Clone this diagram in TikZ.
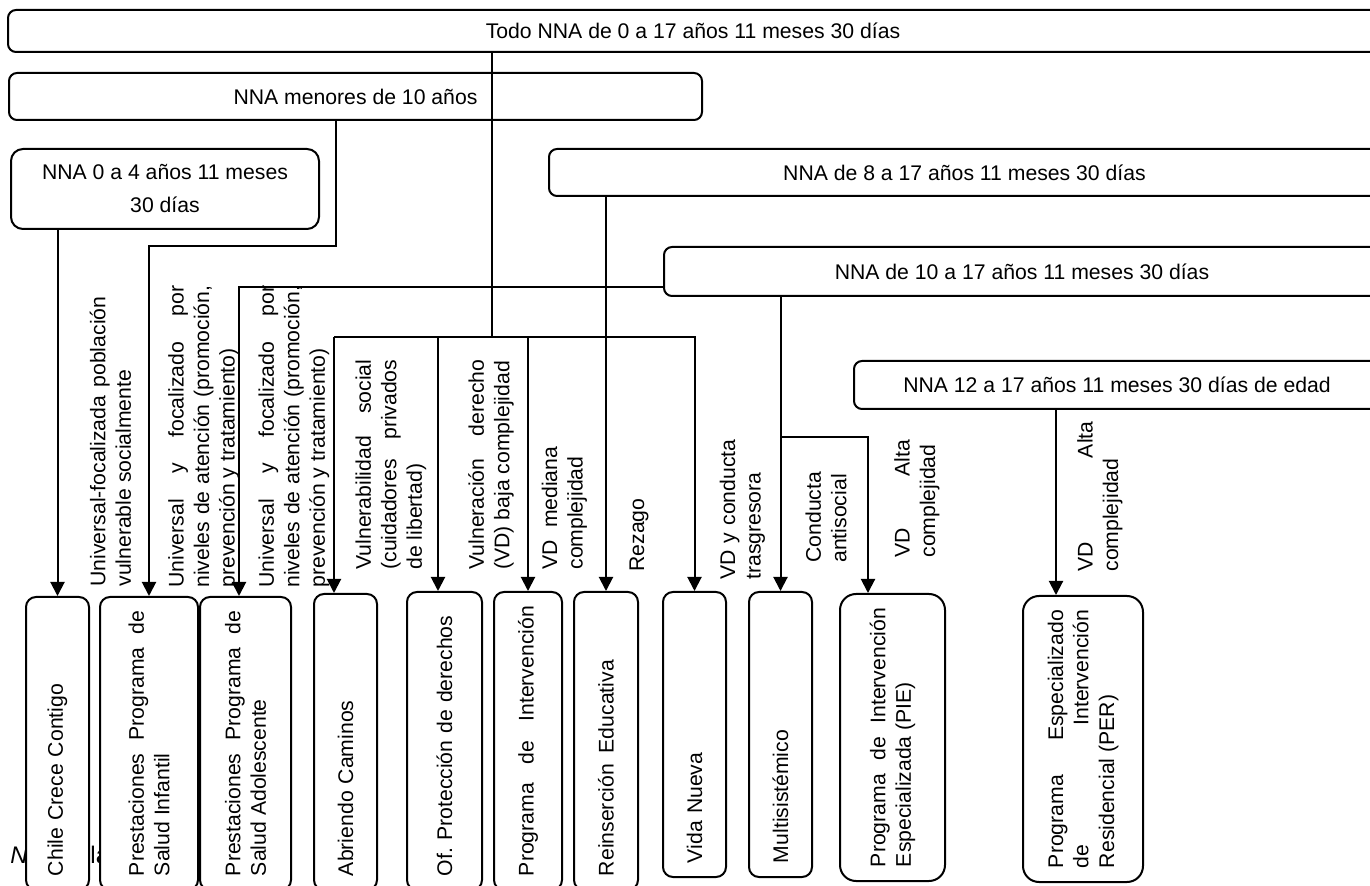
\documentclass[tikz,border=0pt]{standalone}
\usepackage{fontspec}
\setmainfont{Liberation Sans}
\usetikzlibrary{arrows.meta}

\newlength\px
\setlength\px{0.5pt}
\hyphenpenalty=10000
\exhyphenpenalty=10000
\tolerance=10000
\hbadness=10000

\begin{document}
\begin{tikzpicture}[
  x=0.5pt, y=-0.5pt,
  font=\fontsize{10.6pt}{12.75pt}\selectfont,
  grupo/.style={draw, line width=1pt, rounded corners=4pt, inner sep=0pt},
  prog/.style={draw, fill=white, line width=1pt, rounded corners=5pt, rotate=90, anchor=west,
    inner xsep=14\px, inner ysep=0pt, align=left},
  etiqueta/.style={rotate=90, anchor=west, inner sep=0pt, align=justify},
  arr/.style={-{Triangle[length=7pt, width=7pt]}, line width=1pt},
  linea/.style={line width=1pt}
]
\useasboundingbox (0,0) rectangle (1370,886);

% nota (queda tapada por las cajas)
\node[anchor=base west, inner sep=0pt, font=\fontsize{12pt}{14pt}\selectfont] (nota) at (10,863)
  {\textit{Nota.}\ Elaboración propia.};

% programas
\node[prog, minimum height=63\px, text width=265\px] (chile) at (57.5,891) {Chile Crece Contigo};
\node[prog, minimum height=98\px, text width=265\px, align=justify] (infantil) at (149,891)
  {Prestaciones Programa de\linebreak Salud Infantil};
\node[prog, minimum height=91\px, text width=265\px, align=justify] (adolesc) at (245.5,891)
  {Prestaciones Programa de\linebreak Salud Adolescente};
\node[prog, minimum height=63\px, text width=268\px] (abriendo) at (345.5,891) {Abriendo Caminos};
\node[prog, minimum height=75\px, text width=270\px] (oficina) at (444.5,891) {Of.\ Protección de derechos};
\node[prog, minimum height=68\px, text width=270\px] (progint) at (528,891)
  {\makebox[270\px][l]{Programa\hfill de\hfill Intervención}};
\node[prog, minimum height=64\px, text width=270\px] (reinsercion) at (606,891)
  {\makebox[216\px][l]{Reinserción\hfill Educativa}};
\node[prog, minimum height=63\px, text width=257\px] (vida) at (694.5,878) {Vida Nueva};
\node[prog, minimum height=63\px, text width=257\px] (multi) at (780.5,878) {Multisistémico};
\node[prog, minimum height=105\px, text width=259\px, align=justify, rounded corners=8pt] (pie) at (892.5,882)
  {Programa de Intervención\linebreak Especializada (PIE)};
\node[prog, minimum height=120\px, text width=258\px, align=justify, rounded corners=8pt] (per) at (1083,883)
  {Programa Especializado\linebreak de Intervención\linebreak Residencial (PER)};

% grupos de edad
\node[grupo, minimum width=1370\px, minimum height=42\px] (todo) at (693,31)
  {Todo NNA de 0 a 17 años 11 meses 30 días};
\node[grupo, minimum width=693\px, minimum height=47\px] (menores) at (355.5,96.5)
  {NNA menores de 10 años};
\node[grupo, minimum width=308\px, minimum height=80\px, rounded corners=6pt, align=center,
  font=\fontsize{10.6pt}{16.5pt}\selectfont] (cero) at (165,189)
  {NNA 0 a 4 años 11 meses\\30 días};
\node[grupo, minimum width=831\px, minimum height=47\px] (ocho) at (964.5,172.5)
  {NNA de 8 a 17 años 11 meses 30 días};
\node[grupo, minimum width=716\px, minimum height=49\px] (diez) at (1022,271.5)
  {NNA de 10 a 17 años 11 meses 30 días};
\node[grupo, minimum width=526\px, minimum height=48\px] (doce) at (1117,385)
  {NNA 12 a 17 años 11 meses 30 días de edad};

% criterios
\node[etiqueta, text width=290\px] (lUni) at (110.5,587)
  {Universal-focalizada población\linebreak vulnerable socialmente};
\node[etiqueta, text width=302\px] (lNiv1) at (203.7,588)
  {Universal y focalizado por\linebreak niveles de atención (promoción,\linebreak prevención y tratamiento)};
\node[etiqueta, text width=302\px] (lNiv2) at (294,588)
  {Universal y focalizado por\linebreak niveles de atención (promoción,\linebreak prevención y tratamiento)};
\node[etiqueta, text width=210\px] (lVul) at (391,570)
  {Vulnerabilidad social\linebreak (cuidadores privados\linebreak de libertad)};
\node[etiqueta, text width=210\px] (lBaja) at (491,570)
  {Vulneración derecho\linebreak (VD) baja complejidad};
\node[etiqueta, text width=123\px] (lMed) at (564.5,570)
  {VD mediana\linebreak complejidad};
\node[etiqueta, text width=80\px, align=left] (lRez) at (639,572) {Rezago};
\node[etiqueta, text width=170\px, align=left] (lTras) at (742.5,580)
  {VD y conducta\\trasgresora};
\node[etiqueta, text width=100\px, align=left] (lAnti) at (826,563)
  {Conducta\\antisocial};
\node[etiqueta, text width=118\px] (lAlta1) at (917,558)
  {VD Alta\linebreak complejidad};
\node[etiqueta, text width=150\px] (lAlta2) at (1100,572)
  {VD Alta\linebreak complejidad};

% puntos de quiebre
\coordinate (m1) at (336,246);
\coordinate (t1) at (492,337);
\coordinate (b1) at (334,337);
\coordinate (b2) at (438,337);
\coordinate (d1) at (239,287);
\coordinate (p1) at (868,437);
\coordinate (r1) at (1056,409);

% conectores
\draw[arr] (cero.south -| chile.east) -- (chile.east);
\draw[arr] (menores.south -| m1) -- (m1) -| (infantil.east);
\draw[linea] (todo.south -| t1) -- (t1);
\draw[arr] (b1) -- (b1 |- abriendo.east);
\draw[arr] (b1) -| (vida.east);
\draw[arr] (b2) -- (b2 |- oficina.east);
\draw[arr] (t1 -| progint.east) -- (progint.east);
\draw[arr] (ocho.south -| reinsercion.east) -- (reinsercion.east);
\draw[arr] (diez.west |- d1) -- (d1) -- (d1 |- adolesc.east);
\draw[arr] (diez.south -| multi.east) -- (multi.east);
\draw[arr] (p1 -| multi.east) -- (p1) -- (p1 |- pie.east);
\draw[arr] (r1) -- (r1 |- per.east);
\end{tikzpicture}
\end{document}
